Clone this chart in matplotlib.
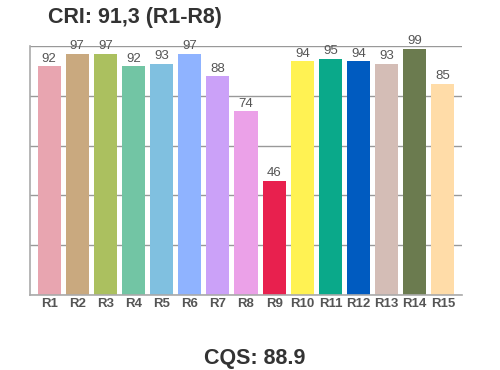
import numpy as np
from matplotlib import pyplot as plt

plt.rcParams['font.family'] = ['Liberation Sans', 'DejaVu Sans']

labels = ['R1', 'R2', 'R3', 'R4', 'R5', 'R6', 'R7', 'R8',
          'R9', 'R10', 'R11', 'R12', 'R13', 'R14', 'R15']
values = [92, 97, 97, 92, 93, 97, 88, 74, 46, 94, 95, 94, 93, 99, 85]
colors = ['#e8a5b0', '#c9a97f', '#abc05f', '#72c5a4', '#80c0e0',
          '#8fb3ff', '#cba1f8', '#eba1e8', '#e8204e', '#fff253',
          '#0aa98a', '#005bc0', '#d4bdb6', '#6b7b4f', '#ffdca8']
cri_title = 'CRI: 91,3 (R1-R8)'
cqs_title = 'CQS: 88.9'

fig = plt.figure(figsize=(5, 3.7), dpi=100)
ax = fig.add_axes([0.06, 0.203, 0.864, 0.672])

index = np.arange(len(labels))
ax.bar(index, values, 0.82, color=colors, zorder=2)
for i, v in zip(index, values):
    ax.text(i, v + 0.5, str(v), ha='center', va='bottom', fontsize=9.5, color='#555555')

ax.set_xlim(-0.68, 14.68)
ax.set_ylim(0, 100)
ax.set_yticks([0, 20, 40, 60, 80, 100])
ax.yaxis.grid(True, color='#999999', linewidth=1, zorder=0)
ax.set_axisbelow(True)
ax.tick_params(axis='y', length=0, labelleft=False)
ax.tick_params(axis='x', length=0, pad=2)
ax.set_xticks(index)
ax.set_xticklabels(labels, fontsize=9.5, fontweight='bold', color='#555555')
for side in ['top', 'right']:
    ax.spines[side].set_visible(False)
for side in ['left', 'bottom']:
    ax.spines[side].set_color('#aaaaaa')
    ax.spines[side].set_linewidth(1.2)

fig.text(0.27, 0.953, cri_title, ha='center', va='center', fontsize=15.5,
         fontweight='bold', color='#333333')
fig.text(0.51, 0.002, cqs_title, ha='center', va='bottom', fontsize=15.5,
         fontweight='bold', color='#333333')

fig.savefig('out.png', dpi=100)
